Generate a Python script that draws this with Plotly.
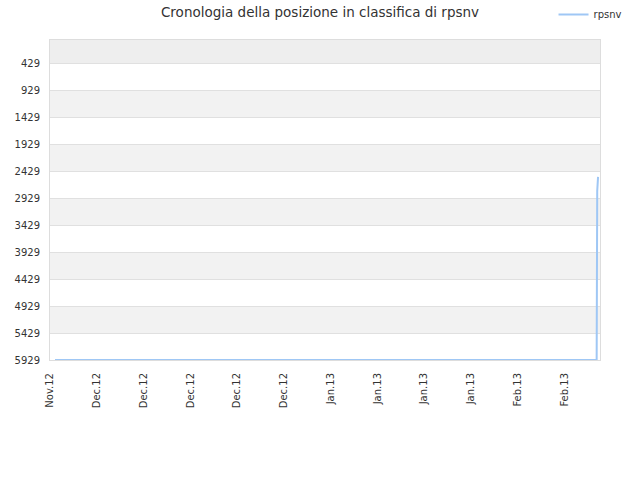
import plotly.graph_objects as go

# Data
dates = ["2012-11-26 18:00", "2012-12-20", "2013-01-20", "2013-02-15 20:00",
         "2013-02-15 22:00", "2013-02-15 23:00", "2013-02-16 00:00", "2013-02-16 01:00"]
positions = [5929, 5929, 5929, 5929, 2800, 2700, 2580, 2535]
series_name = "rpsnv"
tick_values = [429, 929, 1429, 1929, 2429, 2929, 3429, 3929, 4429, 4929, 5429, 5929]

fig = go.Figure()
fig.add_trace(go.Scatter(x=dates, y=positions, mode="lines", name=series_name,
                         line=dict(color="#9fc7f5", width=2)))

# alternating background bands
shapes = []
edges = [0] + tick_values
for i in range(len(edges) - 1):
    lo, hi = edges[i], edges[i + 1]
    if i == 0:
        col = "#eeeeee"
    elif i % 2 == 0:
        col = "#f2f2f2"
    else:
        continue
    shapes.append(dict(type="rect", xref="paper", yref="y", x0=0, x1=1, y0=lo, y1=hi,
                       fillcolor=col, line=dict(width=0), layer="below"))

fig.update_layout(
    width=640, height=480,
    margin=dict(l=50, r=40, t=40, b=120),
    paper_bgcolor="white", plot_bgcolor="white",
    font=dict(family="DejaVu Sans", size=10, color="#333333"),
    title=dict(text="Cronologia della posizione in classifica di rpsnv",
               x=0.5, xanchor="center", y=0.975, yanchor="middle",
               font=dict(size=13.5, color="#333333"), automargin=False),
    showlegend=True,
    legend=dict(orientation="h", x=0.9805, xanchor="right", xref="container",
                y=1.0, yanchor="top", yref="container",
                font=dict(size=10, color="#333333"),
                bgcolor="rgba(0,0,0,0)", itemwidth=30),
    shapes=shapes,
    xaxis=dict(type="date", range=["2012-11-26", "2013-02-16 08:00"],
               tick0="2012-11-26", dtick=7 * 24 * 3600 * 1000, tickformat="%b.%y",
               tickangle=-90, showgrid=False, showline=True, linecolor="#dddddd",
               mirror=True, ticks="", zeroline=False, ticklabelstandoff=8,
               automargin=False, tickfont=dict(size=10, color="#333333")),
    yaxis=dict(range=[5929, 0], tickvals=tick_values, showgrid=True, gridcolor="#e0e0e0",
               showline=True, linecolor="#dddddd", mirror=True, ticks="", zeroline=False,
               ticklabelstandoff=7, automargin=False,
               tickfont=dict(size=10, color="#333333")),
)

fig.write_html("out.html", config={"displayModeBar": False},
               post_script="document.body.style.margin='0px';")
